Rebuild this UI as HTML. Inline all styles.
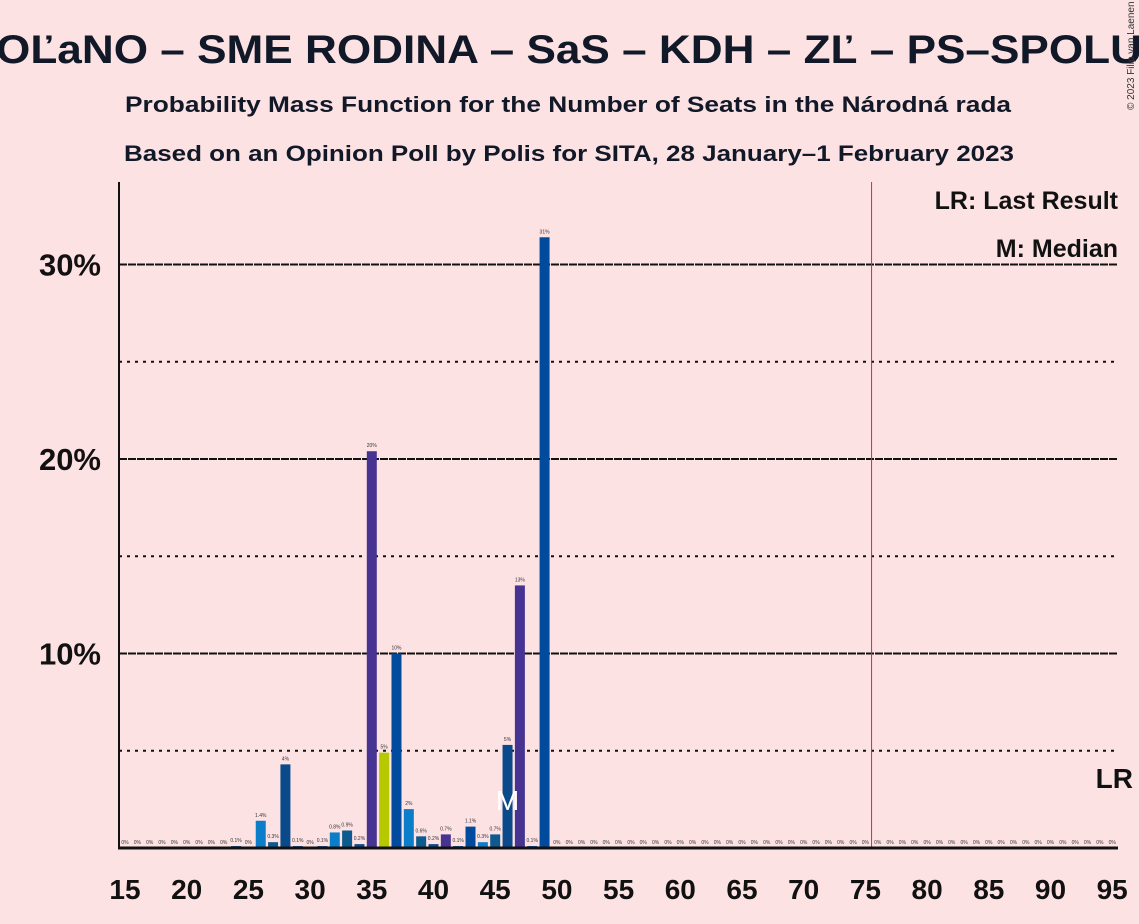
<!DOCTYPE html>
<html><head><meta charset="utf-8"><style>
body{margin:0;background:#fde2e4;}
svg{display:block;font-family:"Liberation Sans",sans-serif;}
</style></head><body>
<svg id="chart" width="1139" height="924">
<rect width="1139" height="924" fill="#fde2e4"/>
<text x="569" y="63" text-anchor="middle" font-size="40" font-weight="bold" fill="#111827" textLength="1146" lengthAdjust="spacingAndGlyphs">OĽaNO – SME RODINA – SaS – KDH – ZĽ – PS–SPOLU</text>
<text x="568" y="112" text-anchor="middle" font-size="22" font-weight="bold" fill="#111827" textLength="886" lengthAdjust="spacingAndGlyphs">Probability Mass Function for the Number of Seats in the Národná rada</text>
<text x="569" y="161" text-anchor="middle" font-size="22" font-weight="bold" fill="#111827" textLength="890" lengthAdjust="spacingAndGlyphs">Based on an Opinion Poll by Polis for SITA, 28 January–1 February 2023</text>
<text x="1134" y="110" font-size="10" fill="#333" transform="rotate(-90 1134 110)">© 2023 Filip van Laenen</text>
<g id="grid"></g><g id="bars"></g><g id="axes"></g>
</svg>
<script>
const seats=[];for(let s=15;s<=95;s++)seats.push(s);
const probs={24:0.1,26:1.4,27:0.3,28:4.3,29:0.1,31:0.1,32:0.8,33:0.9,34:0.2,35:20.4,36:4.9,37:10.0,38:2.0,39:0.6,40:0.2,41:0.7,42:0.1,43:1.1,44:0.3,45:0.7,46:5.3,47:13.5,48:0.1,49:31.4};
const barLabels={24:"0.1%",26:"1.4%",27:"0.3%",28:"4%",29:"0.1%",31:"0.1%",32:"0.8%",33:"0.9%",34:"0.2%",35:"20%",36:"5%",37:"10%",38:"2%",39:"0.6%",40:"0.2%",41:"0.7%",42:"0.1%",43:"1.1%",44:"0.3%",45:"0.7%",46:"5%",47:"13%",48:"0.1%",49:"31%"};
const barColors={26:"#0a7ec8",27:"#0d5a8f",28:"#0b4a8a",29:"#0b4a8a",31:"#0b4a8a",32:"#0a7ec8",33:"#0d5a8f",34:"#0b4a8a",35:"#473391",36:"#b5c800",37:"#004b9e",38:"#0a7ec8",39:"#0d5a8f",40:"#0b4a8a",41:"#473391",42:"#004b9e",43:"#004b9e",44:"#0a7ec8",45:"#0d5a8f",46:"#0b4a8a",47:"#473391",48:"#004b9e",49:"#004b9e",24:"#0b4a8a"};
const yTicks=[10,20,30];
const xTicks=[15,20,25,30,35,40,45,50,55,60,65,70,75,80,85,90,95];
const medianSeat=46, lastResult=95, majority=75.5;
const NS="http://www.w3.org/2000/svg";
const x=s=>125+(s-15)*12.34;
const y=p=>848-p*19.45;
function mk(tag,attrs,parent,text){const e=document.createElementNS(NS,tag);for(const k in attrs)e.setAttribute(k,attrs[k]);if(text!==undefined)e.textContent=text;document.getElementById(parent).appendChild(e);return e;}
for(let p=5;p<=30;p+=5){
 const major=p%10===0;
 const l=mk('line',{x1:119,x2:1118,y1:y(p),y2:y(p),stroke:'#111',"stroke-width":2,"stroke-dasharray":major?'8,1':'3,5'},'grid');
 
 
}
yTicks.forEach(t=>{const e=mk('text',{x:101,y:y(t)+11,"text-anchor":"end","font-size":31,"font-weight":"bold",fill:'#111'},'axes',t+'%');
 
 });
xTicks.forEach(t=>{const e=mk('text',{x:x(t),y:899,"text-anchor":"middle","font-size":28,"font-weight":"bold",fill:'#111'},'axes',String(t));
 
 });
seats.forEach(s=>{
 const p=probs[s]||0;
 if(p>0){const r=mk('rect',{x:x(s)-5,y:y(p),width:10,height:848-y(p),fill:barColors[s]||'#004b9e'},'bars');
  
  }
 const t=mk('text',{x:x(s),y:y(p)-4,"text-anchor":"middle","font-size":5,fill:'#333'},'bars',barLabels[s]||'0%');
 
 
});
const m=mk('text',{x:x(medianSeat),y:810,"text-anchor":"middle","font-size":28,fill:'#fff'},'bars','M');


const rl=mk('line',{x1:x(majority),x2:x(majority),y1:182,y2:848,stroke:'#ff1a1a',"stroke-width":1},'axes');


const ax=mk('line',{x1:119,x2:119,y1:182,y2:849,stroke:'#111',"stroke-width":2},'axes');


const bx=mk('line',{x1:118,x2:1118,y1:848,y2:848,stroke:'#111',"stroke-width":3},'axes');


const lr=mk('text',{x:1133,y:788,"text-anchor":"end","font-size":28,"font-weight":"bold",fill:'#111'},'axes','LR');


const l1=mk('rect',{x:930,y:185,width:190,height:30,fill:'#fde2e4'},'axes');


const t1=mk('text',{x:1118,y:209,"text-anchor":"end","font-size":25,"font-weight":"bold",fill:'#111'},'axes','LR: Last Result');


const l2=mk('rect',{x:980,y:233,width:140,height:30,fill:'#fde2e4'},'axes');


const t2=mk('text',{x:1118,y:257,"text-anchor":"end","font-size":25,"font-weight":"bold",fill:'#111'},'axes','M: Median');


</script>
</body></html>
